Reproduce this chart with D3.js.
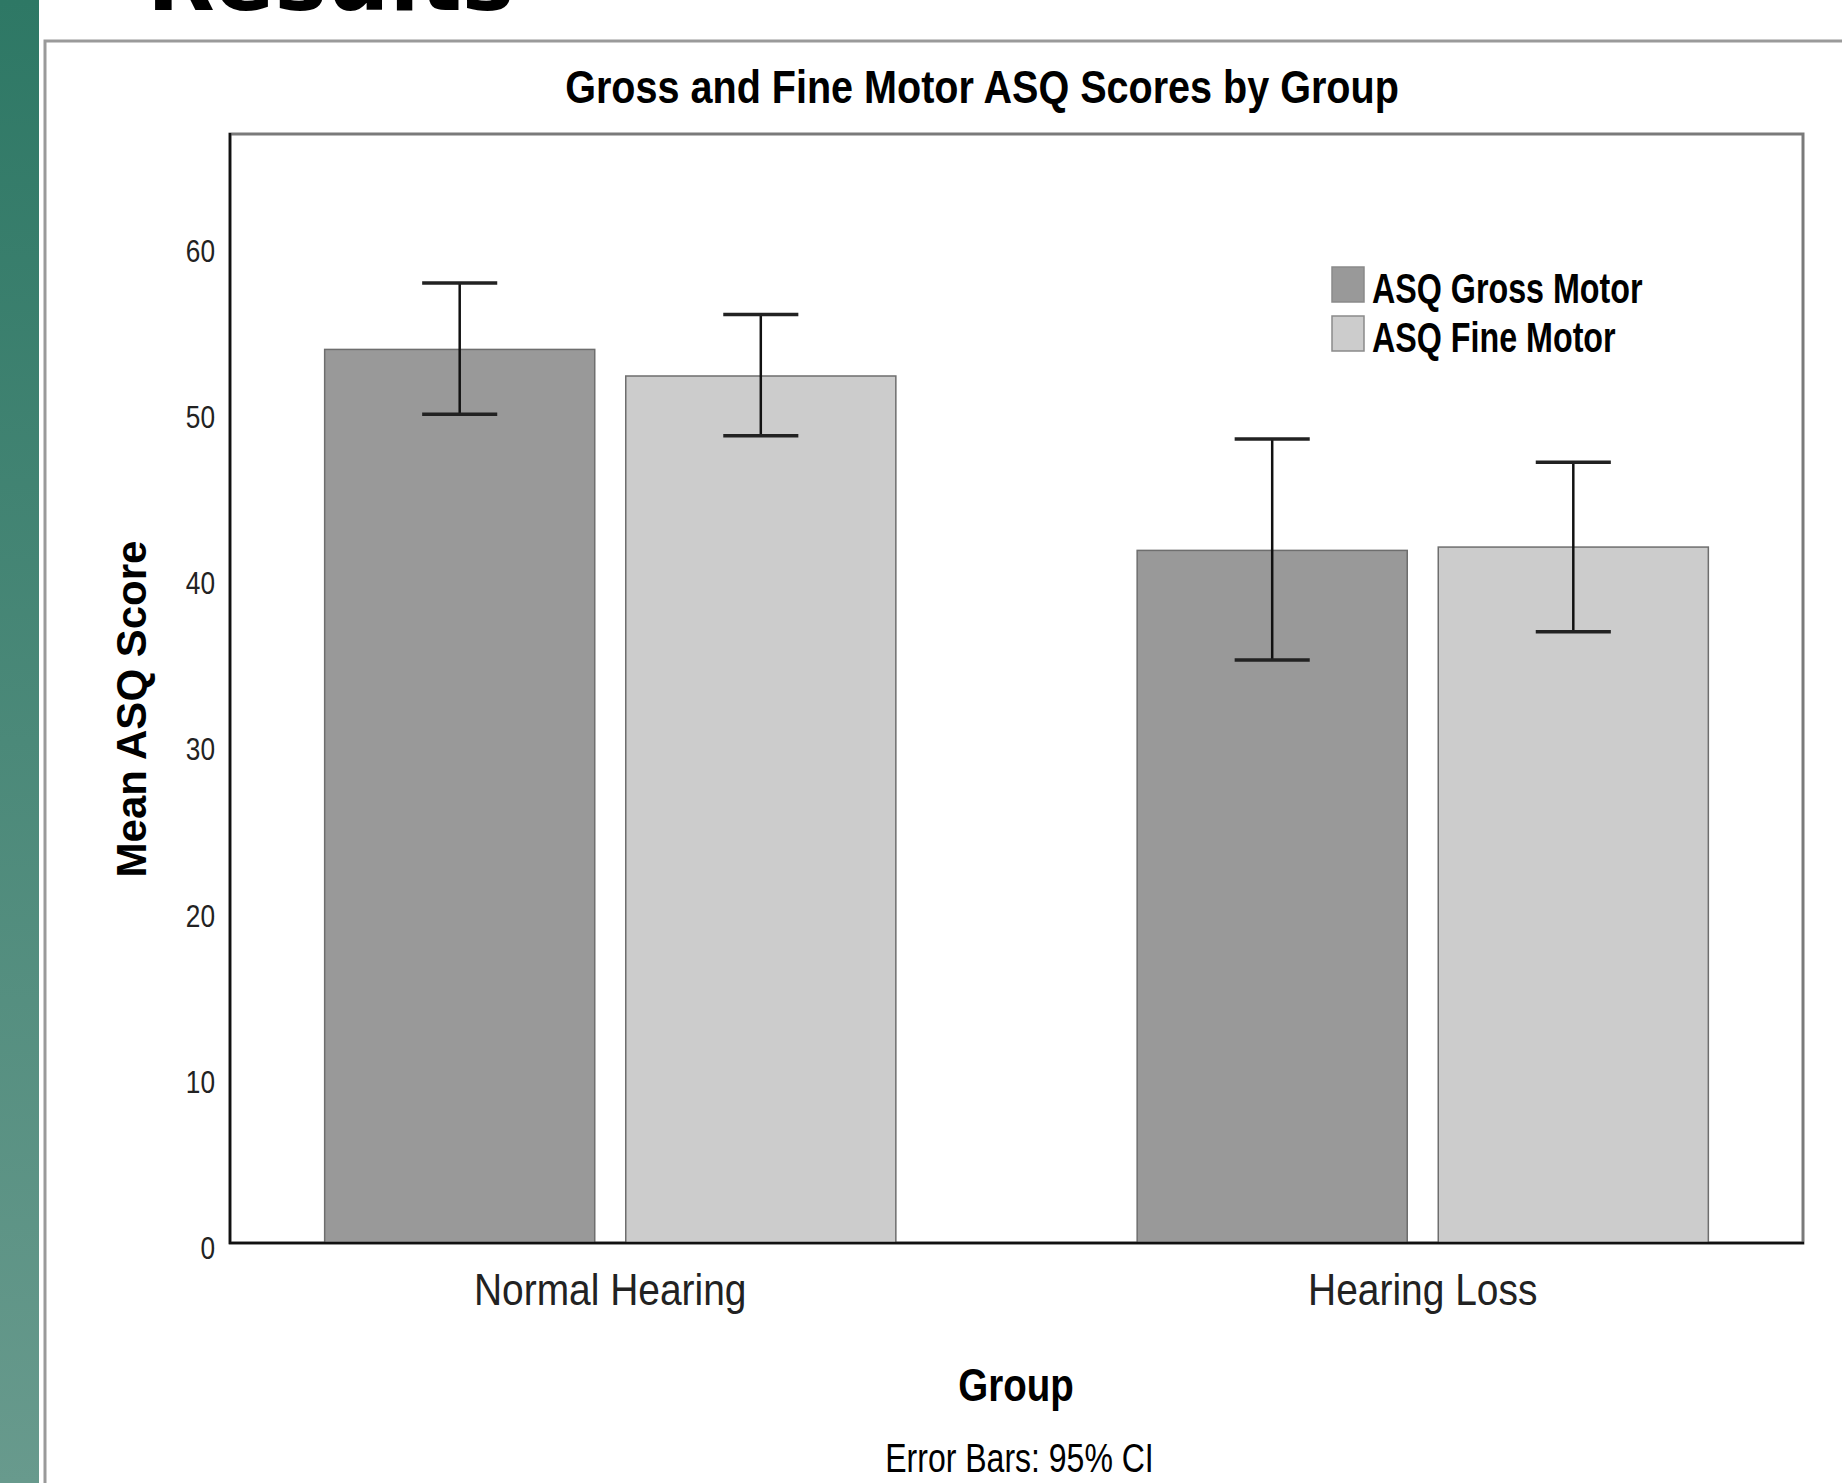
<!DOCTYPE html>
<html>
<head>
<meta charset="utf-8">
<script src="https://cdn.jsdelivr.net/npm/d3@7"></script>
<style>
  html, body { margin: 0; padding: 0; background: #ffffff; }
  svg { display: block; }
  text { font-family: "Liberation Sans", Arial, sans-serif; fill: #000; }
</style>
</head>
<body>
<script>
// Mean ASQ scores with 95% confidence intervals, by hearing group
const groups = ["Normal Hearing", "Hearing Loss"];
const seriesNames = ["ASQ Gross Motor", "ASQ Fine Motor"];
const seriesFill = ["#999999", "#cccccc"];
const grossMean = [53.8, 41.7];
const grossLow  = [49.9, 35.1];
const grossHigh = [57.8, 48.4];
const fineMean  = [52.2, 41.9];
const fineLow   = [48.6, 36.8];
const fineHigh  = [55.9, 47.0];
const yTicks = [0, 10, 20, 30, 40, 50, 60];

const rows = groups.map((g, i) => ({
  group: g,
  values: [
    { key: seriesNames[0], mean: grossMean[i], lo: grossLow[i], hi: grossHigh[i] },
    { key: seriesNames[1], mean: fineMean[i],  lo: fineLow[i],  hi: fineHigh[i] }
  ]
}));

const W = 1842, H = 1483;
const plot = { left: 230, right: 1803, top: 134, bottom: 1243 };

const svg = d3.select("body").append("svg").attr("width", W).attr("height", H);

// slide decoration: green strip on the left, frame around the chart
const defs = svg.append("defs");
const grad = defs.append("linearGradient").attr("id", "strip")
  .attr("x1", 0).attr("y1", 0).attr("x2", 0).attr("y2", 1);
grad.append("stop").attr("offset", "0%").attr("stop-color", "#2e7865");
grad.append("stop").attr("offset", "100%").attr("stop-color", "#689a8d");
svg.append("rect").attr("x", 0).attr("y", 0).attr("width", 39).attr("height", H).attr("fill", "url(#strip)");

svg.append("text")
  .attr("x", 147).attr("y", 10)
  .style("font-family", "'DejaVu Sans', sans-serif")
  .style("font-size", "88px").style("font-weight", "bold")
  .text("Results");

svg.append("path")
  .attr("d", `M45,${H} V41 H${W}`)
  .attr("fill", "none").attr("stroke", "#9a9a9a").attr("stroke-width", 3);

// text helper with horizontal compression
function label(parent, str, x, y, size, weight, sx, anchor) {
  return parent.append("text")
    .attr("transform", `translate(${x},${y}) scale(${sx},1)`)
    .attr("text-anchor", anchor)
    .style("font-size", size + "px")
    .style("font-weight", weight)
    .text(str);
}

// scales
const x0 = d3.scaleBand().domain(groups).range([plot.left, plot.right])
  .paddingInner(0.297).paddingOuter(0.1165);
const x1 = d3.scaleBand().domain(seriesNames).range([0, x0.bandwidth()])
  .paddingInner(0.103).paddingOuter(0);
const y = d3.scaleLinear().domain([0, 66.77]).range([plot.bottom, plot.top]);
const color = d3.scaleOrdinal().domain(seriesNames).range(seriesFill);

// plot frame (top and right in grey)
svg.append("rect")
  .attr("x", plot.left).attr("y", plot.top)
  .attr("width", plot.right - plot.left).attr("height", plot.bottom - plot.top)
  .attr("fill", "#ffffff").attr("stroke", "#7a7a7a").attr("stroke-width", 3);

// bars
const gGroups = svg.append("g").selectAll("g").data(rows).join("g")
  .attr("transform", d => `translate(${x0(d.group)},0)`);

gGroups.selectAll("rect").data(d => d.values).join("rect")
  .attr("x", d => x1(d.key))
  .attr("y", d => y(d.mean))
  .attr("width", x1.bandwidth())
  .attr("height", d => y(0) - y(d.mean))
  .attr("fill", d => color(d.key))
  .attr("stroke", "#6e6e6e").attr("stroke-width", 1.5);

// error bars (95% CI)
const capW = x1.bandwidth() * 0.278;
const err = gGroups.selectAll("g.err").data(d => d.values).join("g").attr("class", "err")
  .attr("transform", d => `translate(${x1(d.key) + x1.bandwidth() / 2},0)`);
err.append("line").attr("x1", 0).attr("x2", 0)
  .attr("y1", d => y(d.lo)).attr("y2", d => y(d.hi))
  .attr("stroke", "#111").attr("stroke-width", 2.5);
err.append("line").attr("x1", -capW / 2).attr("x2", capW / 2)
  .attr("y1", d => y(d.hi)).attr("y2", d => y(d.hi))
  .attr("stroke", "#222").attr("stroke-width", 3.5);
err.append("line").attr("x1", -capW / 2).attr("x2", capW / 2)
  .attr("y1", d => y(d.lo)).attr("y2", d => y(d.lo))
  .attr("stroke", "#222").attr("stroke-width", 3.5);

// axes: left and bottom lines in black
const yAxis = svg.append("g").attr("transform", `translate(${plot.left},0)`)
  .call(d3.axisLeft(y).tickValues(yTicks).tickSize(0).tickPadding(0));
yAxis.select(".domain").remove();
yAxis.selectAll("text")
  .attr("x", -18.3).attr("dy", "0.35em")
  .attr("transform", "translate(0,4) scale(0.82,1)")
  .style("font-size", "32px").style("fill", "#222")
  .style("font-family", "'Liberation Sans', Arial, sans-serif");

const xAxis = svg.append("g").attr("transform", `translate(0,${plot.bottom})`)
  .call(d3.axisBottom(x0).tickSize(0).tickPadding(30));
xAxis.select(".domain").remove();
xAxis.selectAll("text")
  .attr("transform", "scale(0.865,1)")
  .style("font-size", "45px").style("fill", "#222")
  .style("font-family", "'Liberation Sans', Arial, sans-serif");
xAxis.selectAll(".tick").attr("transform", d => `translate(${x0(d) + x0.bandwidth() / 2},0)`);

svg.append("line").attr("x1", plot.left).attr("x2", plot.left)
  .attr("y1", plot.top - 1).attr("y2", plot.bottom + 1)
  .attr("stroke", "#111").attr("stroke-width", 2.5);
svg.append("line").attr("x1", plot.left - 1).attr("x2", plot.right + 1)
  .attr("y1", plot.bottom).attr("y2", plot.bottom)
  .attr("stroke", "#111").attr("stroke-width", 2.5);

// legend
const legend = svg.append("g");
seriesNames.forEach((s, i) => {
  const ly = 267 + i * 49;
  legend.append("rect").attr("x", 1332).attr("y", ly).attr("width", 32).attr("height", 35)
    .attr("fill", color(s)).attr("stroke", "#8a8a8a").attr("stroke-width", 1.5);
  label(legend, s, 1372, ly + 36, 43, "bold", 0.75, "start");
});

// titles
label(svg, "Gross and Fine Motor ASQ Scores by Group", 982, 103, 46, "bold", 0.86, "middle");
label(svg, "Group", 1016, 1401, 47, "bold", 0.82, "middle");
label(svg, "Error Bars: 95% CI", 1019.5, 1472, 40, "normal", 0.80, "middle");
svg.append("text")
  .attr("transform", "translate(146,709) rotate(-90)")
  .attr("text-anchor", "middle")
  .style("font-size", "42px").style("font-weight", "bold")
  .text("Mean ASQ Score");
</script>
</body>
</html>
